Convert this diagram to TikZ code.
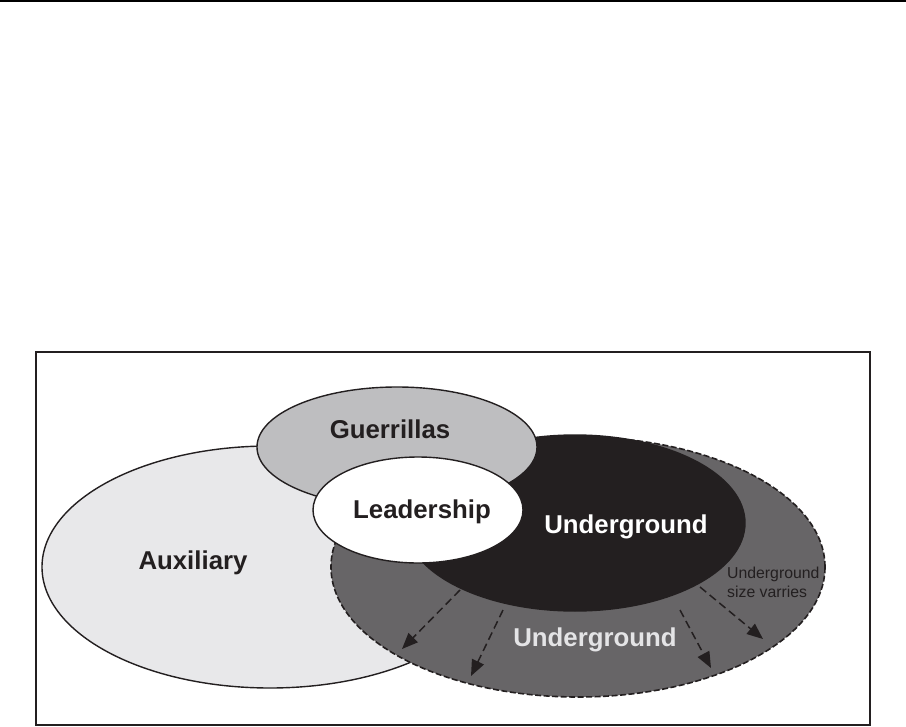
\documentclass[tikz,border=0pt]{standalone}
\usepackage{fontspec}
\setmainfont{Liberation Sans}
\usetikzlibrary{shapes.geometric,arrows.meta}
\definecolor{auxgray}{HTML}{E8E8EA}
\definecolor{guegray}{HTML}{BEBEC0}
\definecolor{ugblack}{HTML}{231F20}
\definecolor{ugdark}{HTML}{676567}
\definecolor{uglight}{HTML}{E4E4E6}
\tikzset{
  blob/.style={ellipse, inner sep=0pt, outer sep=0pt, line width=1.4bp, draw=ugblack},
  bigtxt/.style={font=\fontsize{25.8bp}{28bp}\selectfont\bfseries, inner sep=0pt},
  smalltxt/.style={font=\fontsize{15.8bp}{19bp}\selectfont, align=left, text=ugblack, inner sep=0pt},
  growarrow/.style={draw=ugblack, line width=1.5bp, dash pattern=on 8bp off 4.5bp,
    -{Triangle[length=16bp,width=13bp]}}
}
\begin{document}
\begin{tikzpicture}[x=1bp,y=-1bp]
\useasboundingbox (0,0) rectangle (906,727);
\fill[white] (0,0) rectangle (906,727);
\fill[black] (0,0) rectangle (906,2.2);
\draw[ugblack, line width=2bp] (36,352) rectangle (870,725);

\node[blob, fill=auxgray, minimum width=456bp, minimum height=242bp] (aux) at (270,567) {};
\node[blob, fill=ugdark, dashed, dash pattern=on 6bp off 2.5bp, line width=1.6bp, minimum width=494bp, minimum height=260bp] (ugouter) at (578,567) {};
\node[blob, fill=ugblack, minimum width=340bp, minimum height=176bp] (uginner) at (575,523) {};
\node[blob, fill=guegray, minimum width=280bp, minimum height=120bp] (gue) at (397,447) {};
\node[blob, fill=white, minimum width=210bp, minimum height=106bp] (lead) at (418,510) {};

\node[bigtxt, text=ugblack] (tgue) at (390,429) {Guerrillas};
\node[bigtxt, text=ugblack] (tlead) at (422,512) {Leadership};
\node[bigtxt, text=white] (tugin) at (626,527) {Underground};
\node[bigtxt, text=ugblack] (taux) at (193,563) {Auxiliary};
\node[bigtxt, text=uglight] (tugout) at (595,640) {Underground};
\node[smalltxt, anchor=north west] (tsize) at (727,567) {Underground\\size varries};

\coordinate (a1s) at (460,590); \coordinate (a1e) at (402,649);
\coordinate (a2s) at (503,610); \coordinate (a2e) at (471,676);
\coordinate (a3s) at (680,610); \coordinate (a3e) at (711,668);
\coordinate (a4s) at (700,587); \coordinate (a4e) at (763,639);
\draw[growarrow] (a1s) -- (a1e);
\draw[growarrow] (a2s) -- (a2e);
\draw[growarrow] (a3s) -- (a3e);
\draw[growarrow] (a4s) -- (a4e);
\end{tikzpicture}
\end{document}
